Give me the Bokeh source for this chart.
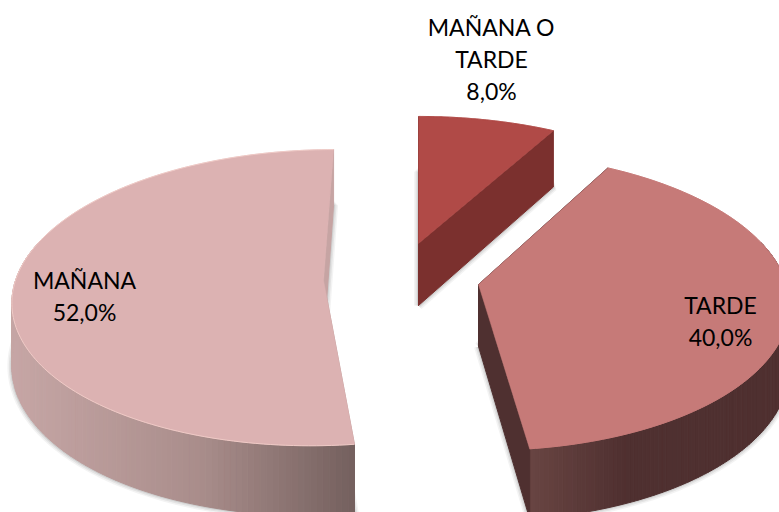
import numpy as np
from bokeh.plotting import figure
from bokeh.embed import file_html
from bokeh.resources import INLINE
from bokeh.core.properties import value

# ---- data ----
categories = ["MAÑANA O TARDE", "TARDE", "MAÑANA"]
shares = [8.0, 40.0, 52.0]
label_lines = [["MAÑANA O", "TARDE", "8,0%"], ["TARDE", "40,0%"], ["MAÑANA", "52,0%"]]

# ---- layout and style (pixels of the picture) ----
PAGE_W, PAGE_H = 779, 512
VANISH_X, VANISH_Y = 420.0, -100.0
PERSP = 0.116
RX, RY = 308.0, 102.0
DEPTH = 62.0
apex = [(418.0, 243.0), (478.0, 284.0), (323.0, 280.0)]
top_color = ["#b04a47", "#c67a78", "#dcb2b2"]
cut_color = ["#7b302e", "#4f3030", "#c6a4a3"]
wall_stops = [
    [(400, "#7b302e"), (600, "#7b302e")],
    [(530, "#684442"), (625, "#4f3030"), (790, "#4f3030")],
    [(12, "#c6a6a5"), (200, "#a98d8b"), (357, "#735f5d")],
]
rim_color = ["#b04a47", "#c67a78", "#efcac6"]
label_x = [491, 720, 84]
label_y = [[26, 58, 90], [304, 336], [279, 311]]
FONT = "Lato"
FONT_PX = "23px"


def project(ax, ay, ang, rad, drop=0.0):
    """Clockwise angle from the back of the disc -> picture pixels."""
    u, v = rad * np.sin(ang), rad * np.cos(ang)
    w = 1 + PERSP * v
    x = VANISH_X + (ax - VANISH_X + RX * u) / w
    y = VANISH_Y + (ay - VANISH_Y + drop - RY * v) / w
    return x, y


def hex_rgb(c):
    return np.array([int(c[i:i + 2], 16) for i in (1, 3, 5)], float)


def shade(stops, x):
    xs = [s[0] for s in stops]
    rgb = np.array([hex_rgb(s[1]) for s in stops])
    vals = [int(round(np.interp(x, xs, rgb[:, i]))) for i in range(3)]
    return "#%02x%02x%02x" % tuple(vals)


p = figure(width=PAGE_W, height=PAGE_H,
           x_range=(0, PAGE_W), y_range=(PAGE_H, 0),
           output_backend="svg", toolbar_location=None,
           min_border=0, x_axis_type=None, y_axis_type=None,
           background_fill_color="white", border_fill_color="white")
p.outline_line_color = None
p.grid.visible = False

edges = np.concatenate([[0.0], np.cumsum(shares)]) / np.sum(shares) * 2 * np.pi


def draw_cuts(i, a0, a1, ax, ay):
    for a in (a0, a1):
        x0, y0 = project(ax, ay, 0.0, 0.0)
        x1, y1 = project(ax, ay, a, 1.0)
        x2, y2 = project(ax, ay, a, 1.0, DEPTH)
        x3, y3 = project(ax, ay, 0.0, 0.0, DEPTH)
        p.patch([x0, x1, x2, x3], [y0, y1, y2, y3],
                fill_color=cut_color[i], line_color=cut_color[i], line_width=1)


for i in range(len(shares)):
    a0, a1 = edges[i], edges[i + 1]
    ax, ay = apex[i]
    angs = np.linspace(a0, a1, 150)

    # soft shadow round the underside
    xb, yb = project(ax, ay, angs, 1.0, DEPTH)
    xa, ya = project(ax, ay, 0.0, 0.0, DEPTH)
    sx = np.concatenate([[xa], xb, [xa]]).tolist()
    sy = np.concatenate([[ya], yb, [ya]]).tolist()
    for lw, alpha in [(9, 0.07), (6, 0.10), (3, 0.14)]:
        p.line(sx, sy, line_color="#555555", line_width=lw, line_alpha=alpha)

    large = (a1 - a0) > np.pi
    if large:
        draw_cuts(i, a0, a1, ax, ay)

    # outer wall in shaded strips (only the near part of the rim can be seen)
    strips = np.linspace(a0, a1, 181)
    wx, wy, wc = [], [], []
    for s0, s1 in zip(strips[:-1], strips[1:]):
        if np.cos((s0 + s1) / 2) > 0.3:
            continue
        x0, y0 = project(ax, ay, s0, 1.0)
        x1, y1 = project(ax, ay, s1, 1.0)
        x2, y2 = project(ax, ay, s1, 1.0, DEPTH)
        x3, y3 = project(ax, ay, s0, 1.0, DEPTH)
        wx.append([x0, x1, x2, x3])
        wy.append([y0, y1, y2, y3])
        wc.append(shade(wall_stops[i], (x0 + x1) / 2))
    if wx:
        p.patches(wx, wy, fill_color=wc, line_color=wc, line_width=1)

    if not large:
        draw_cuts(i, a0, a1, ax, ay)

    # top face
    xt, yt = project(ax, ay, angs, 1.0)
    p.patch(np.concatenate([[ax], xt]).tolist(), np.concatenate([[ay], yt]).tolist(),
            fill_color=top_color[i], line_color=top_color[i], line_width=0.5)
    p.line(xt.tolist(), yt.tolist(), line_color=rim_color[i], line_width=1)

    # labels
    for line, yy in zip(label_lines[i], label_y[i]):
        p.text([label_x[i]], [yy], text=[line], text_align="center", text_baseline="middle",
               text_color="#000000", text_font=value(FONT), text_font_size=FONT_PX)

open("out.html", "w").write(file_html(p, INLINE))
